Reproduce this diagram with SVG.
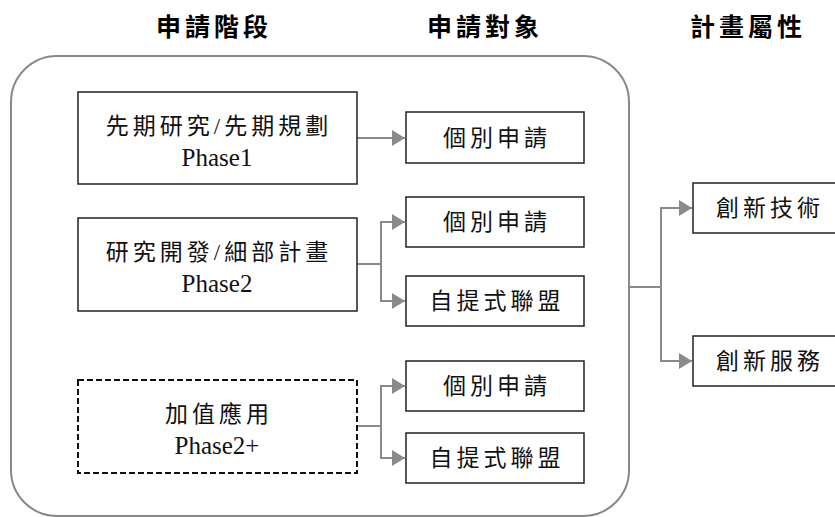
<svg xmlns="http://www.w3.org/2000/svg" width="835" height="517" viewBox="0 0 835 517">
<style>
  .hdr { font-family: "Noto Sans CJK TC", sans-serif; font-weight: bold; font-size: 25px; letter-spacing: 4px; fill: #000; text-anchor: middle; }
  .txt { font-family: "Liberation Serif", "Noto Sans CJK TC", serif; font-size: 23px; fill: #111; text-anchor: middle; }
  .cjk { letter-spacing: 4px; }
  .ph { font-size: 25px; letter-spacing: 0; }
  .box { fill: #fff; stroke: #222; stroke-width: 1.5; }
  .dash { fill: #fff; stroke: #111; stroke-width: 2; stroke-dasharray: 6 3; }
  .conn { fill: none; stroke: #8a8a8a; stroke-width: 2; }
</style>
<defs>
  <marker id="arr" markerUnits="userSpaceOnUse" markerWidth="14" markerHeight="16" refX="13" refY="8" orient="auto">
    <path d="M0,0 L13,8 L0,16 Z" fill="#8a8a8a"/>
  </marker>
</defs>
<rect width="835" height="517" fill="#fff"/>

<g id="headers">
  <text class="hdr" x="214" y="36">申請階段</text>
  <text class="hdr" x="485" y="36">申請對象</text>
  <text class="hdr" x="748" y="36">計畫屬性</text>
</g>

<g id="container">
  <rect x="11" y="56" width="618" height="460" rx="46" ry="46" fill="none" stroke="#888" stroke-width="2"/>
</g>

<g id="connectors">
  <path class="conn" d="M357,138 H405" marker-end="url(#arr)"/>
  <path class="conn" d="M357,264 H381"/>
  <path class="conn" d="M381,222 V301"/>
  <path class="conn" d="M380,222 H405" marker-end="url(#arr)"/>
  <path class="conn" d="M380,301 H405" marker-end="url(#arr)"/>
  <path class="conn" d="M357,426 H381"/>
  <path class="conn" d="M381,386 V458"/>
  <path class="conn" d="M380,386 H405" marker-end="url(#arr)"/>
  <path class="conn" d="M380,458 H405" marker-end="url(#arr)"/>
  <path class="conn" d="M629,287 H661"/>
  <path class="conn" d="M661,208 V361"/>
  <path class="conn" d="M660,208 H692" marker-end="url(#arr)"/>
  <path class="conn" d="M660,361 H692" marker-end="url(#arr)"/>
</g>

<g id="phase1">
  <rect class="box" x="78" y="92" width="279" height="92"/>
  <text class="txt cjk" x="219" y="134">先期研究/先期規劃</text>
  <text class="txt ph" x="217" y="166">Phase1</text>
</g>
<g id="phase2">
  <rect class="box" x="78" y="218" width="279" height="93"/>
  <text class="txt cjk" x="219" y="260">研究開發/細部計畫</text>
  <text class="txt ph" x="217" y="292">Phase2</text>
</g>
<g id="phase2plus">
  <rect class="dash" x="78" y="380" width="279" height="93"/>
  <text class="txt cjk" x="219" y="422">加值應用</text>
  <text class="txt ph" x="217" y="454">Phase2+</text>
</g>

<g id="individual1">
  <rect class="box" x="406" y="112" width="178" height="51"/>
  <text class="txt cjk" x="497" y="146">個別申請</text>
</g>
<g id="individual2">
  <rect class="box" x="406" y="197" width="178" height="50"/>
  <text class="txt cjk" x="497" y="230">個別申請</text>
</g>
<g id="alliance1">
  <rect class="box" x="406" y="276" width="178" height="50"/>
  <text class="txt cjk" x="497" y="309">自提式聯盟</text>
</g>
<g id="individual3">
  <rect class="box" x="406" y="361" width="178" height="50"/>
  <text class="txt cjk" x="497" y="394">個別申請</text>
</g>
<g id="alliance2">
  <rect class="box" x="406" y="433" width="178" height="50"/>
  <text class="txt cjk" x="497" y="466">自提式聯盟</text>
</g>

<g id="tech">
  <rect class="box" x="693" y="183" width="170" height="50"/>
  <text class="txt cjk" x="770" y="216">創新技術</text>
</g>
<g id="service">
  <rect class="box" x="693" y="336" width="170" height="50"/>
  <text class="txt cjk" x="770" y="369">創新服務</text>
</g>
</svg>
